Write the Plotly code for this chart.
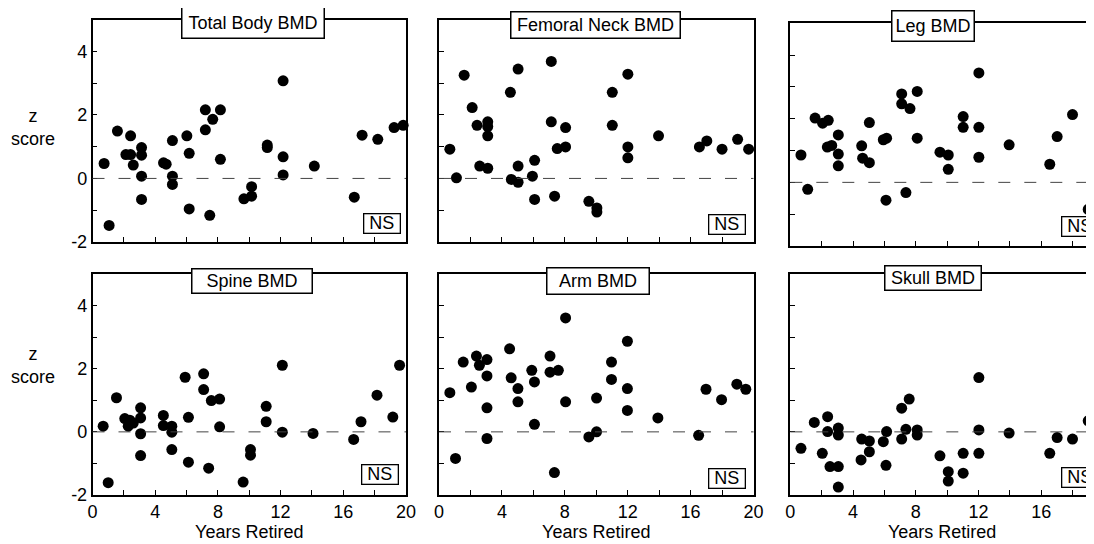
import plotly.graph_objects as go

FONT = "Liberation Sans, Arial, Helvetica, sans-serif"

# ---------------- data (years retired, z score) ----------------
panel_titles = ["Total Body BMD", "Femoral Neck BMD", "Leg BMD",
                "Spine BMD", "Arm BMD", "Skull BMD"]
significance = ["NS", "NS", "NS", "NS", "NS", "NS"]

years_total_body = [0.74, 1.06, 1.59, 2.13, 2.43, 2.43, 2.60, 3.13, 3.13, 3.13, 3.13, 4.53, 4.70,
                    5.10, 5.10, 5.10, 6.02, 6.17, 6.17, 7.20, 7.20, 7.48, 7.67, 8.16, 8.16, 9.66,
                    10.15, 10.15, 11.15, 11.15, 12.16, 12.16, 12.16, 14.15, 16.70, 17.20, 18.20,
                    19.24, 19.82]
z_total_body = [0.47, -1.48, 1.49, 0.75, 0.75, 1.34, 0.42, 0.97, 0.73, 0.07, -0.66, 0.49, 0.45,
                1.19, 0.07, -0.19, 1.34, 0.79, -0.96, 1.53, 2.16, -1.16, 1.86, 2.16, 0.60, -0.64,
                -0.56, -0.26, 1.05, 0.97, 3.07, 0.68, 0.11, 0.39, -0.59, 1.36, 1.23, 1.60, 1.67]

years_femoral_neck = [0.69, 1.11, 1.60, 2.11, 2.42, 2.59, 3.10, 3.10, 3.10, 3.10, 4.54, 4.60,
                      5.03, 5.03, 5.03, 5.94, 6.08, 6.08, 7.14, 7.14, 7.35, 7.52, 8.05, 8.05,
                      9.53, 10.04, 10.04, 11.02, 11.02, 12.01, 12.01, 12.01, 13.96, 16.56, 17.03,
                      18.00, 18.99, 19.69]
z_femoral_neck = [0.92, 0.02, 3.25, 2.23, 1.67, 0.39, 1.78, 1.63, 1.34, 0.32, 2.71, -0.03,
                  3.44, 0.39, -0.12, 0.07, 0.57, -0.66, 3.68, 1.78, -0.56, 0.94, 1.60, 0.99,
                  -0.72, -0.93, -1.06, 2.71, 1.67, 3.28, 0.99, 0.65, 1.34, 0.99, 1.18, 0.92,
                  1.23, 0.92]

years_leg = [0.68, 1.11, 1.58, 2.06, 2.42, 2.36, 2.64, 3.06, 3.06, 3.06, 4.55, 4.61, 5.04, 5.04,
             5.93, 6.14, 6.10, 7.10, 7.10, 7.63, 7.37, 8.09, 8.09, 9.54, 10.07, 10.07, 11.02,
             11.02, 12.02, 12.02, 12.02, 13.95, 16.54, 17.01, 17.99, 18.99, 19.62]
z_leg = [0.86, -0.22, 2.02, 1.86, 1.95, 1.11, 1.16, 1.49, 0.89, 0.52, 1.15, 0.76, 0.62, 1.88,
         1.34, 1.39, -0.56, 2.78, 2.47, 2.32, -0.32, 2.86, 1.39, 0.95, 0.86, 0.41, 2.07, 1.73,
         3.44, 1.73, 0.79, 1.18, 0.57, 1.44, 2.13, -0.85, 1.92]

years_spine = [0.68, 1.00, 1.53, 2.06, 2.38, 2.28, 2.60, 3.07, 3.07, 3.07, 3.07, 4.52, 4.52,
               5.06, 5.06, 5.06, 5.91, 6.12, 6.12, 7.09, 7.09, 7.41, 7.58, 8.11, 8.11, 9.61,
               10.08, 10.08, 11.08, 11.08, 12.11, 12.11, 14.07, 16.66, 17.13, 18.15, 19.16, 19.59]
z_spine = [0.18, -1.61, 1.08, 0.42, 0.37, 0.18, 0.28, 0.76, 0.44, -0.06, -0.75, 0.52, 0.20,
           0.18, -0.01, -0.56, 1.73, 0.46, -0.96, 1.84, 1.34, -1.15, 0.99, 1.04, 0.16, -1.59,
           -0.56, -0.74, 0.81, 0.32, 2.11, -0.01, -0.05, -0.24, 0.32, 1.16, 0.47, 2.11]

years_arm = [0.69, 1.05, 1.54, 2.06, 2.38, 2.57, 3.05, 3.05, 3.05, 3.05, 4.49, 4.59, 5.02, 5.02,
             5.90, 6.07, 6.07, 7.06, 7.06, 7.59, 7.34, 8.05, 8.05, 9.53, 10.02, 10.02, 10.97,
             10.97, 11.98, 11.98, 11.98, 13.92, 16.51, 16.98, 17.97, 18.94, 19.51]
z_arm = [1.24, -0.84, 2.21, 1.42, 2.40, 2.11, 2.29, 1.77, 0.76, -0.21, 2.63, 1.71, 1.37, 0.95,
         1.95, 1.58, 0.24, 2.40, 1.89, 1.95, -1.29, 3.61, 0.95, -0.16, 0.00, 1.07, 2.21, 1.66,
         2.87, 1.37, 0.68, 0.44, -0.11, 1.35, 1.02, 1.51, 1.35]

years_skull = [0.68, 1.53, 2.04, 2.38, 2.38, 2.53, 3.06, 3.06, 3.06, 3.06, 4.55, 4.51, 5.04,
               5.04, 5.93, 6.14, 6.10, 7.10, 7.58, 7.10, 7.37, 8.09, 8.09, 9.54, 10.07, 10.07,
               11.02, 11.02, 12.02, 12.02, 12.02, 13.95, 16.54, 17.01, 17.99, 18.99]
z_skull = [-0.52, 0.30, -0.68, 0.48, 0.01, -1.10, 0.12, -0.10, -1.10, -1.75, -0.23, -0.89,
           -0.29, -0.63, -0.31, 0.01, -1.06, 0.75, 1.04, -0.23, 0.08, 0.06, -0.10, -0.76,
           -1.26, -1.56, -0.68, -1.31, 1.72, 0.06, -0.68, -0.04, -0.68, -0.18, -0.23, 0.35]

x_tickvals = [0, 2, 4, 6, 8, 10, 12, 14, 16, 18, 20]
x_ticktext = ["0", "", "4", "", "8", "", "12", "", "16", "", "20"]
y_tickvals = [-2, -1, 0, 1, 2, 3, 4]
y_ticktext = ["-2", "", "0", "", "2", "", "4"]

panel_years = [years_total_body, years_femoral_neck, years_leg, years_spine, years_arm, years_skull]
panel_z = [z_total_body, z_femoral_neck, z_leg, z_spine, z_arm, z_skull]

# ---------------- layout geometry (window pixels) ----------------
OFF = 8                     # default page body margin
W, H = 1094 - OFF, 544 - OFF
col_px = [(92.5, 406.0), (439.0, 753.5), (790.3, 1094.0)]
x_ranges = [[0, 20], [0, 20], [0, 19.36]]
row_px = {0: (19.5, 242.0), 1: (274.0, 495.0)}
leg_px = (23.3, 246.0)      # third panel of the top row sits slightly lower

# title box: (x centre in data, y centre in data, box width px, box height px)
title_geom = [(10.24, 4.905, 144, 33), (9.98, 4.82, 171, 28), (9.10, 4.92, 84, 32),
              (10.17, 4.77, 122, 26), (10.10, 4.78, 104, 28), (9.10, 4.87, 98, 26)]
ns_geom = [(18.50, -1.41), (18.31, -1.45), (18.46, -1.40),
           (18.33, -1.35), (18.29, -1.47), (18.46, -1.44)]

fig = go.Figure()
layout = dict(width=W, height=H, margin=dict(l=0, r=0, t=0, b=0, autoexpand=False),
              paper_bgcolor="white", plot_bgcolor="white", showlegend=False,
              font=dict(family=FONT, size=18, color="black"))
annotations = []
shapes = []

for i in range(6):
    k = i + 1
    sfx = "" if k == 1 else str(k)
    row, col = divmod(i, 3)
    x0, x1 = col_px[col]
    top, bot = leg_px if (row == 0 and col == 2) else row_px[row]

    fig.add_trace(go.Scatter(
        x=panel_years[i], y=panel_z[i], mode="markers",
        marker=dict(size=11, color="black", line=dict(width=0)),
        xaxis="x" + sfx, yaxis="y" + sfx, cliponaxis=False, hoverinfo="skip"))

    xa = dict(domain=[(x0 - OFF) / W, min(1.0, (x1 - OFF) / W)], range=x_ranges[col],
              anchor="y" + sfx, automargin=False,
              showline=True, linecolor="black", linewidth=1.5, mirror=True,
              ticks="inside", ticklen=5, tickwidth=1.2, tickcolor="black",
              tickmode="array", tickvals=x_tickvals, ticktext=x_ticktext,
              showgrid=False, zeroline=False,
              tickfont=dict(size=18, family=FONT, color="black"),
              showticklabels=(row == 1))
    if row == 1:
        xa["title"] = dict(text="Years Retired", standoff=4,
                           font=dict(size=18, family=FONT, color="black"))
    ya = dict(domain=[1 - (bot - OFF) / H, 1 - (top - OFF) / H], range=[-2, 5],
              anchor="x" + sfx, automargin=False,
              showline=True, linecolor="black", linewidth=1.5, mirror=(col != 2),
              ticks="inside", ticklen=5, tickwidth=1.2, tickcolor="black",
              tickmode="array", tickvals=y_tickvals, ticktext=y_ticktext,
              showgrid=False, zeroline=False,
              tickfont=dict(size=18, family=FONT, color="black"),
              showticklabels=(col == 0))
    layout["xaxis" + sfx] = xa
    layout["yaxis" + sfx] = ya

    shapes.append(dict(type="line", xref="x" + sfx + " domain", yref="y" + sfx,
                       x0=0, x1=1, y0=0, y1=0,
                       line=dict(color="#444444", width=1, dash="12px,14px")))

    tx, ty, bw, bh = title_geom[i]
    annotations.append(dict(text=panel_titles[i], x=tx, y=ty, xref="x" + sfx, yref="y" + sfx,
                            showarrow=False, xanchor="center", yanchor="middle",
                            bgcolor="white", bordercolor="black", borderwidth=1.5,
                            borderpad=0, width=bw - 3, height=bh - 3,
                            font=dict(size=18, family=FONT, color="black")))
    nx, ny = ns_geom[i]
    annotations.append(dict(text=significance[i], x=nx, y=ny, xref="x" + sfx, yref="y" + sfx,
                            showarrow=False, xanchor="center", yanchor="middle",
                            bgcolor="white", bordercolor="black", borderwidth=1.3,
                            borderpad=0, width=35, height=18,
                            font=dict(size=18, family=FONT, color="black")))

# "z score" label for each row (one two-line text)
for yc in [128.0, 365.0]:
    annotations.append(dict(text="z<br>score", x=(32.5 - OFF) / W, y=1 - (yc - OFF) / H,
                            xref="paper", yref="paper", align="center",
                            showarrow=False, xanchor="center", yanchor="middle",
                            font=dict(size=18, family=FONT, color="black")))

layout["annotations"] = annotations
layout["shapes"] = shapes
fig.update_layout(**layout)
fig.write_html("out.html")
